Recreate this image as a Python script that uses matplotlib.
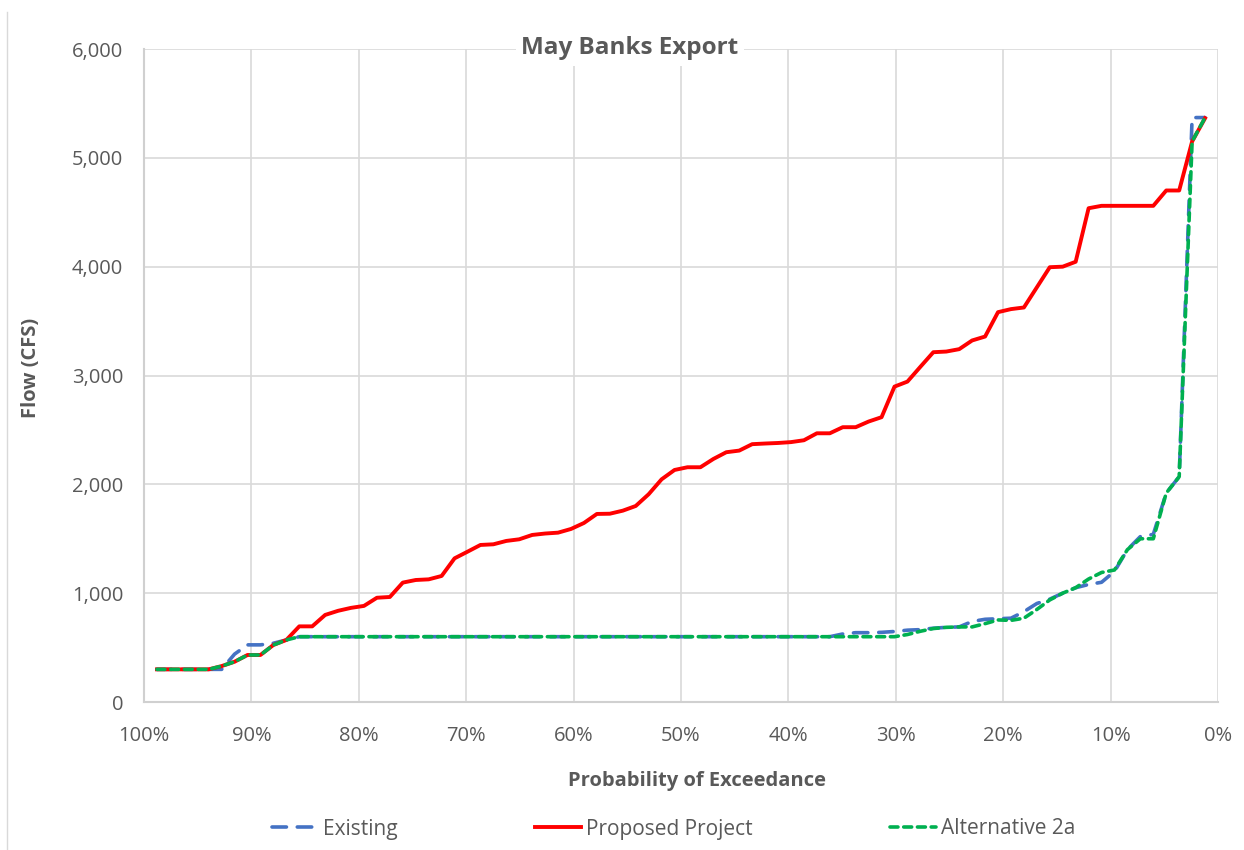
import numpy as np
import matplotlib
matplotlib.use("Agg")
import matplotlib.pyplot as plt
from matplotlib.lines import Line2D
from matplotlib.ticker import FuncFormatter

plt.rcParams['font.family'] = ['Open Sans', 'DejaVu Sans']

# May Banks export flows (cfs), sorted, one value per year (82 years)
existing = [300, 300, 300, 300, 300, 300, 440, 525, 525, 540, 570,
            600, 600, 600, 600, 600, 600, 600, 600, 600, 600, 600, 600, 600, 600,
            600, 600, 600, 600, 600, 600, 600, 600, 600, 600, 600, 600, 600, 600,
            600, 600, 600, 600, 600, 600, 600, 600, 600, 600, 600, 600, 600, 600,
            625, 637, 637, 640, 648, 660, 665, 678, 686, 690, 740, 760, 765, 770,
            830, 905, 945, 1000, 1050, 1080, 1100, 1200, 1400, 1520, 1540, 1920,
            2070, 5370, 5370]
proposed = [300, 300, 300, 300, 300, 330, 370, 432, 432, 524, 570, 695, 695,
            800, 838, 865, 883, 958, 965, 1097, 1121, 1127, 1158, 1320, 1381,
            1443, 1449, 1480, 1495, 1535, 1548, 1556, 1590, 1645, 1728, 1730,
            1758, 1801, 1909, 2046, 2132, 2157, 2157, 2233, 2295, 2310, 2369,
            2375, 2380, 2388, 2405, 2469, 2469, 2525, 2525, 2577, 2617, 2898,
            2944, 3080, 3214, 3220, 3242, 3322, 3358, 3582, 3610, 3625, 3810,
            3995, 4000, 4045, 4537, 4559, 4559, 4559, 4559, 4559, 4700, 4700,
            5150, 5364]
alt2a = [300, 300, 300, 300, 300, 330, 370, 432, 432, 524, 570,
         600, 600, 600, 600, 600, 600, 600, 600, 600, 600, 600, 600, 600, 600,
         600, 600, 600, 600, 600, 600, 600, 600, 600, 600, 600, 600, 600, 600,
         600, 600, 600, 600, 600, 600, 600, 600, 600, 600, 600, 600, 600, 600,
         600, 600, 600, 600, 600, 620, 650, 675, 686, 690, 690, 720, 754, 750,
         770, 850, 938, 1000, 1050, 1130, 1190, 1213, 1400, 1500, 1500, 1920,
         2070, 5150, 5370]

# Weibull plotting position, largest exceedance first
n = len(proposed)
exceed = 100 * np.arange(n, 0, -1) / (n + 1)

gray = '#595959'

fig = plt.figure(figsize=(12.44, 8.5), dpi=100)
ax = fig.add_axes([144/1244, 1 - 702/850, (1218 - 144)/1244, (702 - 49)/850])

ax.plot(exceed, existing, color='#4472C4', lw=2.6, linestyle=(0, (4, 3)),
        dash_capstyle='round', label='Existing')
ax.plot(exceed, proposed, color='#FF0000', lw=2.8, solid_joinstyle='round',
        label='Proposed Project')
ax.plot(exceed, alt2a, color='#00B050', lw=2.6, linestyle=(0, (2.2, 1.6)),
        dash_capstyle='round', label='Alternative 2a')

ax.set_xlim(100, 0)
ax.set_ylim(0, 6000)
ax.set_xticks(np.arange(100, -1, -10))
ax.set_yticks(np.arange(0, 6001, 1000))
ax.xaxis.set_major_formatter(FuncFormatter(lambda v, p: f'{v:.0f}%'))
ax.yaxis.set_major_formatter(FuncFormatter(lambda v, p: f'{v:,.0f}'))
ax.grid(True, color='#D9D9D9', lw=1.2)
ax.set_axisbelow(True)
for s in ['top', 'right']:
    ax.spines[s].set_visible(False)
for s in ['left', 'bottom']:
    ax.spines[s].set_color('#D0D0D0')
    ax.spines[s].set_linewidth(1.5)
ax.tick_params(length=0, labelsize=14.5, labelcolor=gray)
ax.tick_params(axis='x', pad=17)
ax.tick_params(axis='y', pad=15)

# axis titles placed like the spreadsheet chart
fig.text(697/1244, 1 - 781/850, 'Probability of Exceedance', ha='center',
         va='center', fontsize=14.5, fontweight='bold', color=gray)
fig.text(31/1244, 1 - 368/850, 'Flow (CFS)', ha='center', va='center',
         rotation=90, fontsize=14.5, fontweight='bold', color=gray)

fig.text(630/1244, 1 - 48/850, 'May Banks Export', ha='center', va='center',
         fontsize=17.5, fontweight='bold', color=gray,
         bbox=dict(facecolor='white', edgecolor='none', pad=4))

fig.legend(loc='center', bbox_to_anchor=(674/1244, 1 - 829/850), ncol=3,
           frameon=False, fontsize=15, labelcolor=gray, handlelength=2.2,
           handletextpad=0.25, columnspacing=6.6)

fig.add_artist(Line2D([7/1244, 7/1244], [0, 1 - 12/850], color='#D9D9D9',
                      lw=1, transform=fig.transFigure))

fig.savefig('out.png', dpi=100)
